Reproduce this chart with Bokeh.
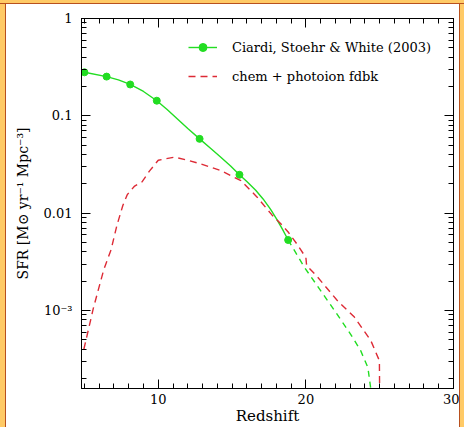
from bokeh.plotting import figure
from bokeh.models import (LogAxis, LinearAxis, Legend, LegendItem, SingleIntervalTicker,
                          LogTicker, CustomJSTickFormatter, CustomLabelingPolicy, Div)
from bokeh.layouts import row, column
from bokeh.embed import file_html
from bokeh.resources import INLINE

# Ciardi, Stoehr & White (2003): marked points
csw_pts_z = [5.0, 6.5, 8.1, 9.9, 12.8, 15.5, 18.8]
csw_pts_sfr = [0.28, 0.253, 0.21, 0.143, 0.058, 0.0248, 0.0053]
# solid curve through them
csw_z = [5.0, 6.5, 7.3, 8.1, 9.0, 9.9, 10.6, 11.3, 12.0, 12.8, 13.5, 14.2, 14.9, 15.5,
         16.0, 16.6, 17.1, 17.6, 18.0, 18.4, 18.8]
csw_sfr = [0.28, 0.253, 0.234, 0.21, 0.178, 0.143, 0.116, 0.093, 0.074, 0.058, 0.047, 0.038,
           0.0305, 0.0248, 0.0212, 0.0172, 0.0140, 0.0110, 0.0088, 0.0069, 0.0053]
# dashed extrapolation
csw_ext_z = [18.8, 19.9, 21.0, 21.9, 23.0, 23.7, 24.2, 24.5]
csw_ext_sfr = [0.0053, 0.00278, 0.0016, 0.00102, 0.00058, 0.00039, 0.00026, 0.00012]

# chem + photoion fdbk
fb_z = [4.96, 5.6, 6.3, 6.8, 7.2, 7.6, 7.9, 8.4, 8.9, 9.4, 10.0, 11.1, 12.0, 12.9, 14.2,
        15.6, 16.7, 17.7, 18.3, 18.8, 19.4, 20.0, 20.05, 20.8, 22.1, 23.3, 24.4, 24.98, 25.0]
fb_sfr = [4.0e-4, 1.05e-3, 2.6e-3, 4.2e-3, 7.5e-3, 0.012, 0.0155, 0.019, 0.021, 0.027, 0.035,
          0.0376, 0.035, 0.032, 0.0275, 0.0216, 0.0146, 0.0096, 0.0078, 0.0064, 0.0048,
          0.0035, 0.0029, 0.0022, 0.00128, 0.00085, 0.00049, 0.000305, 0.00012]

labels = ["Ciardi, Stoehr & White (2003)", "chem + photoion fdbk"]
y_tick_labels = {"0": "1", "-1": "0.1", "-2": "0.01", "-3": "10⁻³"}

GREEN = "#22dd22"
RED = "#dd2a35"
ORANGE = "#FFCA66"
BROWN = "#B8501E"
FONT = "DejaVu Serif"

p = figure(width=453, height=423, y_axis_type="log", x_range=(4.8, 30), y_range=(1.58e-4, 1),
           output_backend="svg", toolbar_location=None,
           min_border_left=75, min_border_right=6, min_border_top=14, min_border_bottom=39,
           background_fill_color="white", border_fill_color="white")
p.xgrid.visible = False
p.ygrid.visible = False
p.outline_line_color = "black"

xt = SingleIntervalTicker(interval=10, num_minor_ticks=10)
yt = LogTicker(num_minor_ticks=10)
code = "const e = Math.round(Math.log10(tick)); const m = %s; const k = String(e); return (k in m) ? m[k] : '';" % (
    "{" + ",".join("'%s':'%s'" % (k, v) for k, v in y_tick_labels.items()) + "}")
yfmt = CustomJSTickFormatter(code=code)
blank_fmt = CustomJSTickFormatter(code="return '';")
no_labels = CustomLabelingPolicy(code="for (const i of indices) { indices.unset(i) } return indices;")


def style(ax):
    ax.major_tick_in = 9
    ax.major_tick_out = 0
    ax.minor_tick_in = 5
    ax.minor_tick_out = 0
    ax.axis_line_color = "black"
    ax.major_tick_line_color = "black"
    ax.minor_tick_line_color = "black"
    ax.major_label_text_font = FONT
    ax.major_label_text_color = "black"
    ax.major_label_text_font_size = "13px"
    ax.axis_label_text_font = FONT
    ax.axis_label_text_font_style = "normal"
    ax.axis_label_text_color = "black"
    ax.axis_label_text_font_size = "15px"


xa = p.xaxis[0]
xa.ticker = xt
style(xa)
xa.major_label_standoff = 5
xa.axis_label = "Redshift"
xa.axis_label_standoff = 0

ya = p.yaxis[0]
ya.ticker = yt
ya.formatter = yfmt
style(ya)
ya.major_label_standoff = 9
ya.axis_label = "SFR [M⊙ yr⁻¹ Mpc⁻³]"
ya.axis_label_text_font_size = "14px"
ya.axis_label_standoff = 10

ra = LogAxis(ticker=yt, formatter=blank_fmt, major_label_policy=no_labels, major_label_standoff=0)
style(ra)
p.add_layout(ra, "right")
ta = LinearAxis(ticker=xt, formatter=blank_fmt, major_label_policy=no_labels, major_label_standoff=0)
style(ta)
p.add_layout(ta, "above")

g_line = p.line(csw_z, csw_sfr, line_color=GREEN, line_width=1.4)
g_pts = p.scatter(csw_pts_z, csw_pts_sfr, size=7, fill_color=GREEN, line_color=GREEN)
p.line(csw_ext_z, csw_ext_sfr, line_color=GREEN, line_width=1.4, line_dash="6 5")
r_line = p.line(fb_z, fb_sfr, line_color=RED, line_width=1.4, line_dash="7 5")

legend = Legend(items=[LegendItem(label=labels[0], renderers=[g_line, g_pts]),
                       LegendItem(label=labels[1], renderers=[r_line])],
                location=(107, 302), padding=0, margin=0, spacing=9,
                glyph_width=29, glyph_height=20, label_height=20, label_standoff=15,
                label_text_font=FONT, label_text_font_size="13px", label_text_color="black",
                background_fill_alpha=0, border_line_alpha=0)
p.add_layout(legend)

top = Div(width=464, height=4, margin=0,
          styles={"background-color": ORANGE, "border-bottom": "1px solid " + BROWN,
                  "box-sizing": "border-box"})
left = Div(width=6, height=423, margin=0,
           styles={"background-color": ORANGE, "border-right": "1px solid " + BROWN,
                   "box-sizing": "border-box"})
right = Div(width=5, height=423, margin=0,
            styles={"background-color": ORANGE, "border-left": "1px solid " + BROWN,
                    "box-sizing": "border-box"})
layout = column(top, row(left, p, right, spacing=0), spacing=0)

open("out.html", "w").write(file_html(layout, INLINE))
